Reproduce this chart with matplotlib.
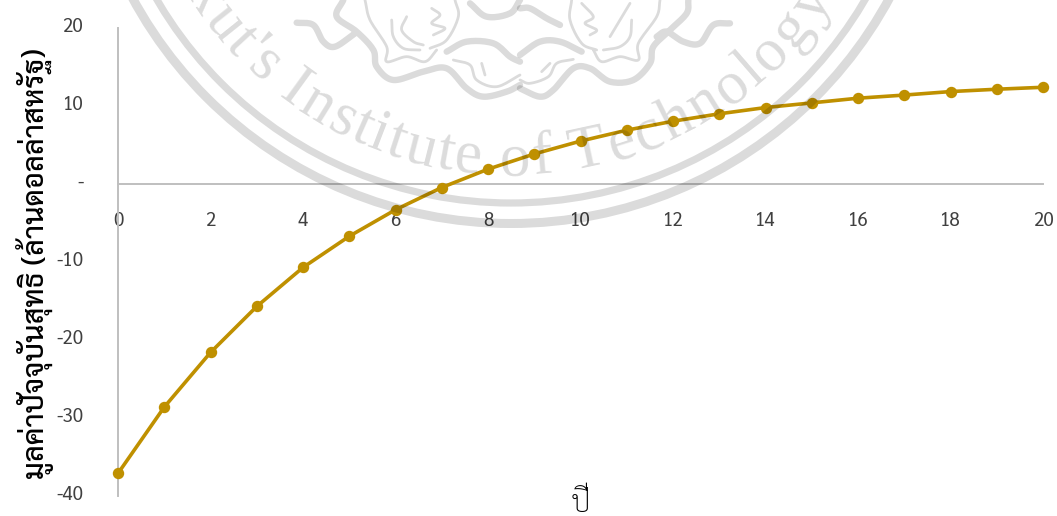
import numpy as np
import matplotlib
matplotlib.use("Agg")
import matplotlib.pyplot as plt
from matplotlib.font_manager import FontProperties
from matplotlib.path import Path
from matplotlib.patches import PathPatch, Circle
from matplotlib.textpath import text_to_path
from matplotlib.transforms import ScaledTranslation

W, H = 1057, 516
FONT = ["Sarabun", "DejaVu Sans"]
GOLD = "#BF9000"
AXIS_GREY = "#BFBFBF"
TICK_COLOR = "#404040"
MARK = dict(color="black", alpha=0.14)

YEARS = list(range(21))
NPV = [-37.1, -28.6, -21.6, -15.7, -10.7, -6.7, -3.3, -0.45, 1.9, 3.85, 5.5,
       6.9, 8.05, 9.0, 9.8, 10.4, 11.0, 11.4, 11.85, 12.15, 12.4]
X_TICKS = list(range(0, 21, 2))
Y_TICKS = [-40, -30, -20, -10, 0, 10, 20]
Y_TICK_LABELS = ["-40", "-30", "-20", "-10", "-", "10", "20"]
Y_LABEL = "มูลค่าปัจจุบันสุทธิ (ล้านดอลล่าสหรัฐ)"
X_LABEL = "ปี"

SEAL_CENTER = (511, -207)
SEAL_TEXT = "kut's Institute of Technology"

# brush strokes of the seal, pixel coordinates from the top left
LEFT_THICK = [
    [(20, 68), (70, 75), (100, 125), (135, 140), (195, 100)],
    [(160, 0), (140, 50), (200, 95), (250, 150), (260, 200), (310, 240),
     (400, 215), (470, 205), (530, 265), (580, 290), (650, 275), (690, 255)],
    [(470, 155), (530, 125), (610, 130), (660, 170), (690, 185)],
    [(540, 10), (590, 50), (660, 40), (690, 0)],
]
LEFT_THIN = [
    [(495, 0), (505, 50), (470, 120), (420, 145)],
    [(225, 0), (240, 60), (290, 140), (290, 185), (350, 170), (405, 185), (440, 150)],
    [(305, 60), (310, 110), (340, 145), (390, 150)],
    [(350, 50), (335, 90), (370, 125), (400, 135)],
    [(490, 180), (540, 195), (560, 240), (620, 260), (690, 225)],
    [(575, 190), (585, 225)],
    [(425, 25), (450, 45), (425, 70), (465, 85), (430, 105)],
]
RIGHT_THICK = [
    [(660, 70), (610, 75), (570, 130), (520, 125), (470, 95), (440, 110)],
    [(535, 0), (530, 40), (480, 90), (430, 140), (420, 190), (370, 240),
     (300, 245), (240, 205), (190, 205), (130, 270), (90, 290), (30, 265)],
    [(215, 155), (150, 125), (90, 125), (30, 165)],
    [(30, 25), (60, 25), (110, 55), (150, 75)],
]
RIGHT_THIN = [
    [(185, 0), (180, 60), (215, 130), (260, 150)],
    [(450, 0), (440, 50), (385, 130), (385, 180), (330, 170), (275, 185), (250, 150)],
    [(365, 60), (360, 110), (330, 140), (280, 150)],
    [(360, 10), (330, 60), (300, 110)],
    [(215, 10), (250, 50), (225, 70), (260, 90), (240, 105)],
    [(190, 178), (140, 190), (115, 230), (60, 250), (30, 240)],
    [(120, 190), (95, 215)],
]


def smooth(points, steps=12):
    # catmull-rom through the given points
    p = np.array(points, dtype=float)
    p = np.vstack([2 * p[0] - p[1], p, 2 * p[-1] - p[-2]])
    out = [p[1]]
    for i in range(1, len(p) - 2):
        for t in np.linspace(0, 1, steps + 1)[1:]:
            out.append(0.5 * (2 * p[i] + (p[i + 1] - p[i - 1]) * t
                              + (2 * p[i - 1] - 5 * p[i] + 4 * p[i + 1] - p[i + 2]) * t ** 2
                              + (3 * p[i] - p[i - 1] - 3 * p[i + 1] + p[i + 2]) * t ** 3))
    return np.array(out)


def stroke_path(strokes, x0):
    # one compound path so crossing strokes do not darken twice
    parts = []
    for s in strokes:
        line = smooth(s) / 3 + [x0, 0]
        parts.append(Path(line))
    return Path.make_compound_path(*parts)


def draw_seal(ov):
    cx, cy = SEAL_CENTER
    ov.add_patch(Circle((cx, cy), 430.5, fill=False, lw=6.5, **MARK))
    ov.add_patch(Circle((cx, cy), 410, fill=False, lw=5.2, **MARK))

    for strokes, x0, lw in [(LEFT_THICK, 290, 4.6), (LEFT_THIN, 290, 2.0),
                            (RIGHT_THICK, 510, 4.6), (RIGHT_THIN, 510, 2.0)]:
        ov.add_patch(PathPatch(stroke_path(strokes, x0), fill=False, lw=lw,
                               capstyle="round", joinstyle="round", **MARK))

    # lettering set along the inside of the rings
    prop = FontProperties(family="Liberation Serif", size=44)
    widths = [text_to_path.get_text_width_height_descent(c, prop, False)[0]
              for c in SEAL_TEXT]
    mids = np.cumsum(widths) - np.array(widths) / 2
    first, last = SEAL_TEXT.index("I"), len(SEAL_TEXT) - 1
    scale = (55.0 + 36.0) / (mids[last] - mids[first])
    for c, m in zip(SEAL_TEXT, mids):
        angle = -36.0 + (m - mids[first]) * scale
        a = np.radians(angle)
        ov.text(cx + 382 * np.sin(a), cy + 382 * np.cos(a), c, rotation=angle,
                rotation_mode="anchor", ha="center", va="baseline",
                fontproperties=prop, clip_on=True, **MARK)


def main():
    fig = plt.figure(figsize=(W / 100, H / 100), dpi=100)
    ax = fig.add_axes([118 / W, 1 - 496 / H, 925 / W, 468 / H])

    ax.plot(YEARS, NPV, color=GOLD, lw=2.6, marker="o", ms=7.2,
            solid_capstyle="round", clip_on=False, zorder=3)

    ax.set_xlim(0, 20)
    ax.set_ylim(-40, 20)
    for side in ["top", "right"]:
        ax.spines[side].set_visible(False)
    ax.spines["bottom"].set_position("zero")
    for side in ["left", "bottom"]:
        ax.spines[side].set_color(AXIS_GREY)
        ax.spines[side].set_linewidth(1.4)

    ax.set_xticks(X_TICKS)
    ax.set_yticks(Y_TICKS)
    ax.set_yticklabels(Y_TICK_LABELS)
    ax.tick_params(axis="x", length=0, pad=20)
    ax.tick_params(axis="y", length=0, pad=25)
    lift = ScaledTranslation(0, 3.5 / 100, fig.dpi_scale_trans)
    for t in ax.get_yticklabels():
        t.set_transform(t.get_transform() + lift)
    for t in ax.get_xticklabels() + ax.get_yticklabels():
        t.set_family(FONT)
        t.set_fontsize(13.5)
        t.set_color(TICK_COLOR)

    fig.text(35 / W, 1 - 264 / H, Y_LABEL, rotation=90, ha="center", va="center",
             family=FONT, fontsize=20.8, fontweight="medium", color="black")
    fig.text(580 / W, 1 - 512 / H, X_LABEL, ha="center", va="baseline",
             family=FONT, fontsize=22, fontweight="light", color="black")

    # seal sits over the whole chart
    ov = fig.add_axes([0, 0, 1, 1], zorder=5)
    ov.set_xlim(0, W)
    ov.set_ylim(H, 0)
    ov.axis("off")
    ov.patch.set_alpha(0)
    draw_seal(ov)

    fig.savefig("out.png", dpi=100)


if __name__ == "__main__":
    main()
